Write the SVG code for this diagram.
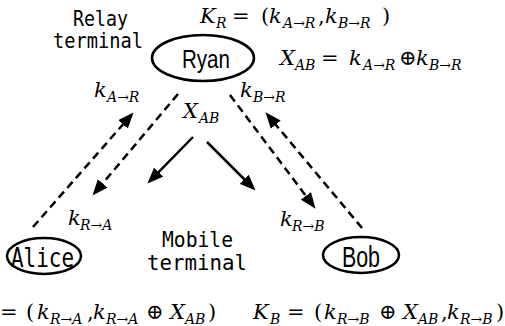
<svg xmlns="http://www.w3.org/2000/svg" width="505" height="326" viewBox="0 0 505 326">
<style>
.node{fill:none;stroke:#000;stroke-width:2.5}
.nl{font-family:"Liberation Sans",Arial,sans-serif;fill:#000}
.mono{font-family:"DejaVu Sans Mono","Liberation Mono",monospace;fill:#000}
.m{font-family:"DejaVu Serif","Liberation Serif",serif;font-size:21px;fill:#000}
.i{font-style:italic}
.s{font-size:14px}
.op{font-size:21px}
.dash{fill:none;stroke:#000;stroke-width:2.5;stroke-dasharray:8 5}
.solid{fill:none;stroke:#000;stroke-width:2.5}
</style>
<defs>
<marker id="ah" markerUnits="userSpaceOnUse" markerWidth="16" markerHeight="13" viewBox="0 0 15 12" refX="3" refY="6" orient="auto">
<path d="M0,0 L15,6 L0,12 z" fill="#000"/>
</marker>
</defs>

<g id="connectors">
<line class="dash" x1="33" y1="227" x2="125.1" y2="122" marker-end="url(#ah)"/>
<line class="dash" x1="178" y1="94" x2="100.7" y2="185.8" marker-end="url(#ah)"/>
<line class="solid" x1="193" y1="137" x2="156.4" y2="174.4" marker-end="url(#ah)"/>
<line class="solid" x1="207" y1="142" x2="246.5" y2="181.5" marker-end="url(#ah)"/>
<line class="dash" x1="230" y1="95" x2="307.8" y2="198.4" marker-end="url(#ah)"/>
<line class="dash" x1="362" y1="228" x2="273.7" y2="122.2" marker-end="url(#ah)"/>
</g>

<g id="ryan">
<ellipse class="node" cx="203" cy="58" rx="51" ry="23"/>
<text class="nl" x="182" y="68" font-size="25" textLength="48" lengthAdjust="spacingAndGlyphs">Ryan</text>
</g>
<g id="alice">
<ellipse class="node" cx="44" cy="256" rx="37" ry="18"/>
<text class="mono" x="11" y="267" font-size="27" textLength="63" lengthAdjust="spacingAndGlyphs">Alice</text>
</g>
<g id="bob">
<ellipse class="node" cx="361" cy="255" rx="38" ry="18"/>
<text class="nl" x="342" y="267" font-size="30" textLength="38" lengthAdjust="spacingAndGlyphs">Bob</text>
</g>

<g id="captions">
<text class="mono" x="73" y="26" font-size="21" textLength="55" lengthAdjust="spacingAndGlyphs">Relay</text>
<text class="mono" x="53" y="48" font-size="21" textLength="90" lengthAdjust="spacingAndGlyphs">terminal</text>
<text class="mono" x="162" y="247" font-size="21" textLength="71" lengthAdjust="spacingAndGlyphs">Mobile</text>
<text class="mono" x="147" y="270" font-size="21" textLength="100" lengthAdjust="spacingAndGlyphs">terminal</text>
</g>

<g id="formulas">
<text class="m"><tspan x="200" y="23" class="i">K</tspan><tspan x="216" y="28" class="s i">R</tspan><tspan x="232" y="23">=</tspan><tspan x="261" y="23">(</tspan><tspan x="269" y="23" class="i">k</tspan><tspan x="283" y="28" class="s i">A</tspan><tspan class="s" y="28">→</tspan><tspan class="s i" y="28">R</tspan><tspan x="318" y="23">,</tspan><tspan x="325" y="23" class="i">k</tspan><tspan x="338" y="28" class="s i">B</tspan><tspan class="s" y="28">→</tspan><tspan class="s i" y="28">R</tspan><tspan x="382" y="23">)</tspan></text>

<text class="m"><tspan x="280" y="65" class="i">X</tspan><tspan x="295" y="70" class="s i">AB</tspan><tspan x="321" y="65">=</tspan><tspan x="349" y="65" class="i">k</tspan><tspan x="363" y="70" class="s i">A</tspan><tspan class="s" y="70">→</tspan><tspan class="s i" y="70">R</tspan><tspan x="399" y="65" class="op">⊕</tspan><tspan x="416" y="65" class="i">k</tspan><tspan x="429" y="70" class="s i">B</tspan><tspan class="s" y="70">→</tspan><tspan class="s i" y="70">R</tspan></text>

<text class="m"><tspan x="94" y="97" class="i">k</tspan><tspan x="107" y="102" class="s i">A</tspan><tspan class="s" y="102">→</tspan><tspan class="s i" y="102">R</tspan></text>
<text class="m"><tspan x="240" y="97" class="i">k</tspan><tspan x="253" y="102" class="s i">B</tspan><tspan class="s" y="102">→</tspan><tspan class="s i" y="102">R</tspan></text>
<text class="m"><tspan x="183" y="118" class="i">X</tspan><tspan x="199" y="123" class="s i">AB</tspan></text>
<text class="m"><tspan x="68" y="225" class="i">k</tspan><tspan x="80" y="230" class="s i">R</tspan><tspan class="s" y="230">→</tspan><tspan class="s i" y="230">A</tspan></text>
<text class="m"><tspan x="280" y="226" class="i">k</tspan><tspan x="292" y="231" class="s i">R</tspan><tspan class="s" y="231">→</tspan><tspan class="s i" y="231">B</tspan></text>

<text class="m"><tspan x="0" y="319">=</tspan><tspan x="26" y="319">(</tspan><tspan x="37" y="319" class="i">k</tspan><tspan x="50" y="324" class="s i">R</tspan><tspan class="s" y="324">→</tspan><tspan class="s i" y="324">A</tspan><tspan x="87" y="319">,</tspan><tspan x="93" y="319" class="i">k</tspan><tspan x="106" y="324" class="s i">R</tspan><tspan class="s" y="324">→</tspan><tspan class="s i" y="324">A</tspan><tspan x="146" y="319">⊕</tspan><tspan x="170" y="319" class="i">X</tspan><tspan x="185" y="324" class="s i">AB</tspan><tspan x="208" y="319">)</tspan></text>
<text class="m"><tspan x="253" y="319" class="i">K</tspan><tspan x="270" y="324" class="s i">B</tspan><tspan x="287" y="319">=</tspan><tspan x="314" y="319">(</tspan><tspan x="324" y="319" class="i">k</tspan><tspan x="337" y="324" class="s i">R</tspan><tspan class="s" y="324">→</tspan><tspan class="s i" y="324">B</tspan><tspan x="379" y="319">⊕</tspan><tspan x="403" y="319" class="i">X</tspan><tspan x="418" y="324" class="s i">AB</tspan><tspan x="441" y="319">,</tspan><tspan x="447" y="319" class="i">k</tspan><tspan x="460" y="324" class="s i">R</tspan><tspan class="s" y="324">→</tspan><tspan class="s i" y="324">B</tspan><tspan x="496" y="319">)</tspan></text>
</g>
</svg>
